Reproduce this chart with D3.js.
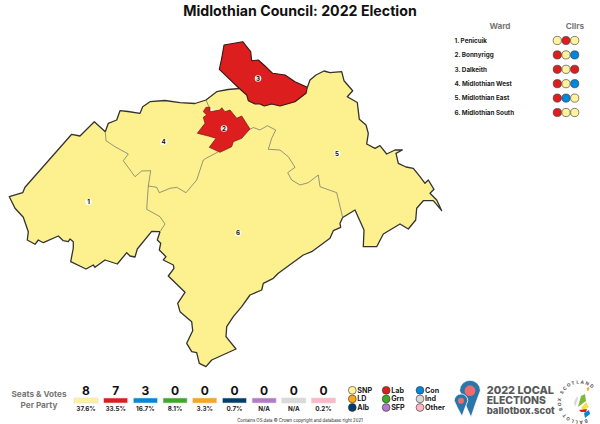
<!DOCTYPE html>
<html lang="en">
<head>
<meta charset="utf-8">
<title>Midlothian Council: 2022 Election</title>
<script src="https://d3js.org/d3.v7.min.js"></script>
<style>
html, body { margin: 0; background: #fff; }
svg { display: block; }
text { font-family: Inter, "Open Sans", sans-serif; }
</style>
</head>
<body>
<script>
// boundary arcs in map units
var coastNorthWest = [[105.3,131.7],[108.3,123.3],[116.7,120],[120,110.7],[128,111.5],[140,113.3],[142.7,106.7],[150,101.7],[165,100.5],[180,102.7],[195,103.5],[206,100]];
var coastNorth = [[206,100],[216.7,91.7],[228,89.5],[239.3,88.5]];
var coastEast = [[307.5,87],[310,80],[316,75],[324,71],[330,72.7],[341.7,71.7],[344,80.7],[352.7,90.7],[347.3,96.7],[357.3,102.5],[359.3,119.3],[366,125],[368.3,133.3],[366.7,144],[375,148.3],[380,145.7],[386.7,154],[395,150],[402.3,150],[396,153.3],[398.3,163.3],[406,167],[413.3,168.3],[420,176.7],[425,183.3],[428.3,180],[434,189.3],[430,193.3],[436.7,200],[441.7,210.7],[433.3,200.7],[423.3,200.7],[416.7,208.3],[415.7,220],[408.3,229],[400,224],[383.3,234],[376.7,246.7],[363.3,246.7],[364,230],[355,210],[342.7,217.5]];
var coastSouth = [[342.7,217.5],[340,223.3],[340.7,227.3],[333.3,230.7],[330,238.3],[311.7,251.7],[303.3,255],[278.3,273.3],[273.3,278.3],[263.3,283.3],[261.7,290],[250,295],[241.7,306.7],[233.3,316.7],[226.7,326.7],[226,336.7],[236,349],[211.7,360],[206,366.7],[199.3,363.3],[196.7,352.7],[191.7,351.7],[186.7,343.3],[192.7,330.7],[191.7,321.7],[180,311.7],[177.7,303.3],[185,292.3],[168.3,276],[174,268.3],[173.3,265],[163.3,260],[166,256.7],[159.3,250],[160.7,243.3],[157.3,240],[160,231.7]];
var coastWest = [[160,231.7],[151.7,231.3],[137.3,249],[135,257],[130,256],[126.7,252.7],[117.3,264],[105,260],[95,267.3],[93.3,265],[86,269],[70.7,261.7],[73.3,248],[73.3,241.7],[70,239],[68.3,241.7],[63.3,240.7],[58.3,236],[43.3,242.7],[38.3,240],[35,244.3],[27.3,240],[28.3,231.7],[23.3,217.3],[15,208.3],[9.3,196.7],[22.7,192.7],[25,187.3],[71.7,134.3],[80,136],[94.3,121.7],[105.3,131.7]];
var line1and4 = [[105.3,131.7],[106,140.7],[115,146.7],[128.3,154],[123.3,160.7],[135,176.7],[141.7,171],[150.7,170.7],[148.3,186]];
var line1and6 = [[148.3,186],[146.7,209.3],[160,216.7],[165,224],[160,231.7]];
var line4and6 = [[148.3,186],[156.7,187.3],[159.3,192.7],[170,188.3],[176.7,187.3],[186,192.7],[196.7,180],[203.3,160],[206,158.3],[218,152]];
var line5and6 = [[250,129.3],[253.3,127.5],[260,130],[267.3,125.7],[275.7,130],[271.7,138.3],[268.3,149.3],[280,150],[288.3,156.7],[295,167.3],[287.7,172.7],[291.7,180],[300,185],[308.3,182.7],[318.3,175],[320,186.7],[336.7,192.7],[342.7,217.5]];
var line4and5 = [[206,100],[209,107]];
var ward2Edge = [[206,107.3],[210,107.3],[210,111.7],[220,110],[221.7,107.7],[225,111.7],[230,110],[236.7,118.3],[241.7,116],[250,129],[241.7,138.3],[233.3,141.7],[231.7,146.7],[220,152.3],[209.3,147.3],[216,138.3],[208.3,136],[197.3,133.3],[205,123.3],[203.3,117.3],[206.7,115],[203.3,111.7]];
var ward3Edge = [[224,45],[242.7,41.7],[250.7,51.7],[251.7,60.7],[258.3,60],[265,66],[272.7,73.3],[285,75],[295,81.7],[307.3,87.3],[306,93.3],[295,101.7],[280,106],[271.7,104],[264.3,106],[260,104],[255,104],[248.3,100.7],[246.7,95],[239.3,88.5],[219.3,69.3],[221.7,58.3]];

// ward table
var wardNames = ["1. Penicuik","2. Bonnyrigg","3. Dalkeith","4. Midlothian West","5. Midlothian East","6. Midlothian South"];
var wardClirs = [["SNP","Lab","SNP"],["Lab","SNP","Con"],["Lab","SNP","Lab"],["Lab","SNP","Con"],["Lab","Con","SNP"],["Lab","SNP","SNP"]];
var wardNumbers = ["1","2","3","4","5","6"];
var wardLabelAt = [[88.5,202],[224,128.5],[258,78.5],[163.5,142],[337,153.5],[238,233]];

// parties
var parties = ["SNP","Lab","Con","Grn","LD","Alb","SFP","Ind","Other"];
var partyColours = ["#fff29b","#dc1e1e","#0087dc","#3cab24","#faa61a","#003e6b","#b07cc8","#d9d9d9","#ffb6c6"];
var seats = [8,7,3,0,0,0,0,0,0];
var votes = ["37.6%","33.5%","16.7%","8.1%","3.3%","0.7%","N/A","N/A","0.2%"];
var legendRows = [["SNP","LD","Alb"],["Lab","Grn","SFP"],["Con","Ind","Other"]];

var w = 600, h = 424;
var svg = d3.select("body").append("svg").attr("width", w).attr("height", h);

var x = d3.scaleLinear().domain([0, 600]).range([0, w]);
var y = d3.scaleLinear().domain([0, 424]).range([0, h]);
var path = d3.line().x(function(d) { return x(d[0]); }).y(function(d) { return y(d[1]); });
var colour = d3.scaleOrdinal().domain(parties).range(partyColours);
var rev = function(a) { return a.slice().reverse(); };

var yellow = "#fdf08f", red = "#dc1e1e", dark = "#333";

svg.append("text").attr("x", 300).attr("y", 15.5)
  .attr("text-anchor", "middle").attr("font-size", 14.2).attr("font-weight", 700).attr("fill", "#111")
  .text("Midlothian Council: 2022 Election");

// map: yellow wards first, the two red ones sit on top
var wards = [
  coastWest.concat(line1and4, line1and6),
  coastNorthWest.concat(line4and5, rev(line4and6), rev(line1and4)),
  coastNorth.concat(coastEast, rev(line5and6), rev(line4and5)),
  line1and6.concat(rev(coastSouth), rev(line5and6), rev(line4and6))
];
svg.append("g").selectAll("path").data(wards).enter().append("path")
  .attr("d", function(d) { return path(d) + "Z"; })
  .attr("fill", yellow).attr("stroke", yellow).attr("stroke-width", 0.4);

svg.append("g").attr("fill", "none").attr("stroke", "#555").attr("stroke-width", 0.6)
  .selectAll("path").data([line1and4, line1and6, line4and6, line5and6, line4and5]).enter().append("path")
  .attr("d", path);

svg.append("g").attr("fill", "none").attr("stroke", dark).attr("stroke-width", 1.3).attr("stroke-linejoin", "round")
  .selectAll("path").data([coastNorthWest, coastNorth, coastEast, coastSouth, coastWest]).enter().append("path")
  .attr("d", path);

svg.append("path").attr("d", path(ward2Edge) + "Z").attr("fill", red).attr("stroke", "#6b1a1a").attr("stroke-width", 0.7);
svg.append("path").attr("d", path(ward3Edge) + "Z").attr("fill", red).attr("stroke", "#3a1616").attr("stroke-width", 1.1).attr("stroke-linejoin", "round");

var labels = svg.append("g").selectAll("g").data(wardNumbers).enter().append("g");
labels.append("circle")
  .attr("cx", function(d, i) { return x(wardLabelAt[i][0]); })
  .attr("cy", function(d, i) { return y(wardLabelAt[i][1]); })
  .attr("r", 3.3).attr("fill", "#fff").attr("opacity", 0.9);
labels.append("text")
  .attr("x", function(d, i) { return x(wardLabelAt[i][0]); })
  .attr("y", function(d, i) { return y(wardLabelAt[i][1]) + 2.2; })
  .attr("text-anchor", "middle").attr("font-size", 6.2).attr("font-weight", 700).attr("fill", "#111")
  .text(function(d) { return d; });

// ward table on the right
var rowY = d3.scalePoint().domain(wardNames).range([40.5, 112.5]);
var clirX = d3.scalePoint().domain([0, 1, 2]).range([557.3, 574.7]);
var tableHead = svg.append("g").attr("font-size", 8.2).attr("font-weight", 700).attr("fill", "#777").attr("text-anchor", "middle");
tableHead.append("text").attr("x", 500).attr("y", 29.2).text("Ward");
tableHead.append("text").attr("x", 575).attr("y", 29.2).text("Cllrs");

var rows = svg.append("g").selectAll("g").data(wardNames).enter().append("g")
  .attr("transform", function(d) { return "translate(0," + rowY(d) + ")"; });
rows.append("text").attr("x", 454.5).attr("y", 2.2).attr("font-size", 6.3).attr("font-weight", 700).attr("fill", "#222")
  .text(function(d) { return d; });
rows.selectAll("circle").data(function(d, i) { return wardClirs[i]; }).enter().append("circle")
  .attr("cx", function(d, i) { return clirX(i); }).attr("r", 4.1)
  .attr("fill", function(d) { return colour(d); }).attr("stroke", "#333").attr("stroke-width", 0.6);

// seats and votes strip
var bandX = d3.scaleBand().domain(parties).range([74, 335.5]).paddingInner(0.19);
var strip = svg.append("g").attr("font-weight", 700).attr("text-anchor", "middle");
strip.append("text").attr("x", 39).attr("y", 397).attr("font-size", 8.2).attr("fill", "#777").text("Seats & Votes");
strip.append("text").attr("x", 39).attr("y", 407.5).attr("font-size", 8.2).attr("fill", "#777").text("Per Party");
strip.selectAll("text.seat").data(seats).enter().append("text").attr("class", "seat")
  .attr("x", function(d, i) { return bandX(parties[i]) + bandX.bandwidth() / 2; })
  .attr("y", 395).attr("font-size", 12).attr("fill", "#111").text(function(d) { return d; });
strip.selectAll("rect").data(parties).enter().append("rect")
  .attr("x", function(d) { return bandX(d); }).attr("y", 398).attr("width", bandX.bandwidth()).attr("height", 5)
  .attr("fill", function(d) { return colour(d); }).attr("stroke", "#ddd").attr("stroke-width", 0.6);
strip.selectAll("text.vote").data(votes).enter().append("text").attr("class", "vote")
  .attr("x", function(d, i) { return bandX(parties[i]) + bandX.bandwidth() / 2; })
  .attr("y", 410.5).attr("font-size", 6.3).attr("fill", "#222").text(function(d) { return d; });

svg.append("text").attr("x", 300).attr("y", 422).attr("text-anchor", "middle").attr("font-size", 4.3).attr("fill", "#222")
  .text("Contains OS data © Crown copyright and database right 2021");

// party key
var keyX = d3.scalePoint().domain([0, 1, 2]).range([352.3, 420]);
var keyY = d3.scalePoint().domain([0, 1, 2]).range([390.3, 407.5]);
var key = svg.append("g");
legendRows.forEach(function(col, c) {
  col.forEach(function(p, r) {
    key.append("circle").attr("cx", keyX(c)).attr("cy", keyY(r)).attr("r", 3.9)
      .attr("fill", colour(p)).attr("stroke", "#333").attr("stroke-width", 0.6);
    key.append("text").attr("x", keyX(c) + 5).attr("y", keyY(r) + 2.5)
      .attr("font-size", 7.2).attr("font-weight", 700).attr("fill", "#222").text(p);
  });
});

// ballotbox.scot logo
function pin(cx, cy, r, tipY, inner) {
  var g = svg.append("g");
  g.append("path")
    .attr("d", "M" + (cx - r) + "," + cy + "A" + r + "," + r + " 0 1 1 " + (cx + r) + "," + cy + "Q" + (cx + r * 0.6) + "," + (cy + r) + " " + (cx + 1) + "," + tipY + "Q" + (cx - r * 0.6) + "," + (cy + r) + " " + (cx - r) + "," + cy + "Z")
    .attr("fill", "#2b76a8").attr("stroke", "#fff").attr("stroke-width", 0.8);
  g.append("circle").attr("cx", cx).attr("cy", cy).attr("r", inner).attr("fill", "#ee6c6c");
}
pin(470, 390.7, 10.4, 417.3, 5.4);
pin(461, 400.7, 6.8, 416.3, 3);

var logo = svg.append("g").attr("font-weight", 800).attr("fill", "#58595b");
logo.append("text").attr("x", 486.7).attr("y", 394).attr("font-size", 10.9).text("2022 LOCAL");
logo.append("text").attr("x", 486.7).attr("y", 404.3).attr("font-size", 10.4).text("ELECTIONS");
logo.append("text").attr("x", 486.7).attr("y", 414).attr("font-size", 9.5).text("ballotbox.scot");

var defs = svg.append("defs");
defs.append("path").attr("id", "ring").attr("d", "M587,419 A18.5,18.5 0 1 1 595,392");
svg.append("text").attr("font-size", 4.6).attr("font-weight", 700).attr("fill", "#555").attr("letter-spacing", 1.3)
  .append("textPath").attr("href", "#ring").text("BALLOT BOX SCOTLAND");

var flagColours = ["#d8d8d8","#7cb83a","#f4e04d","#dc1e1e","#0087dc","#faa61a"];
var flagShapes = [
  [[574,402],[577,396],[578,399],[575,407]],
  [[578,407],[581,396],[585,394],[586,401]],
  [[581,408],[586,402],[589,407],[584,410]],
  [[579,410],[587,409],[586,412],[581,412]],
  [[584,413],[589,410],[590,414],[585,418]],
  [[587,388],[589,387],[589,390],[587,391]]
];
svg.append("g").selectAll("path").data(flagShapes).enter().append("path")
  .attr("d", function(d) { return path(d) + "Z"; })
  .attr("fill", function(d, i) { return flagColours[i]; });
</script>
</body>
</html>
